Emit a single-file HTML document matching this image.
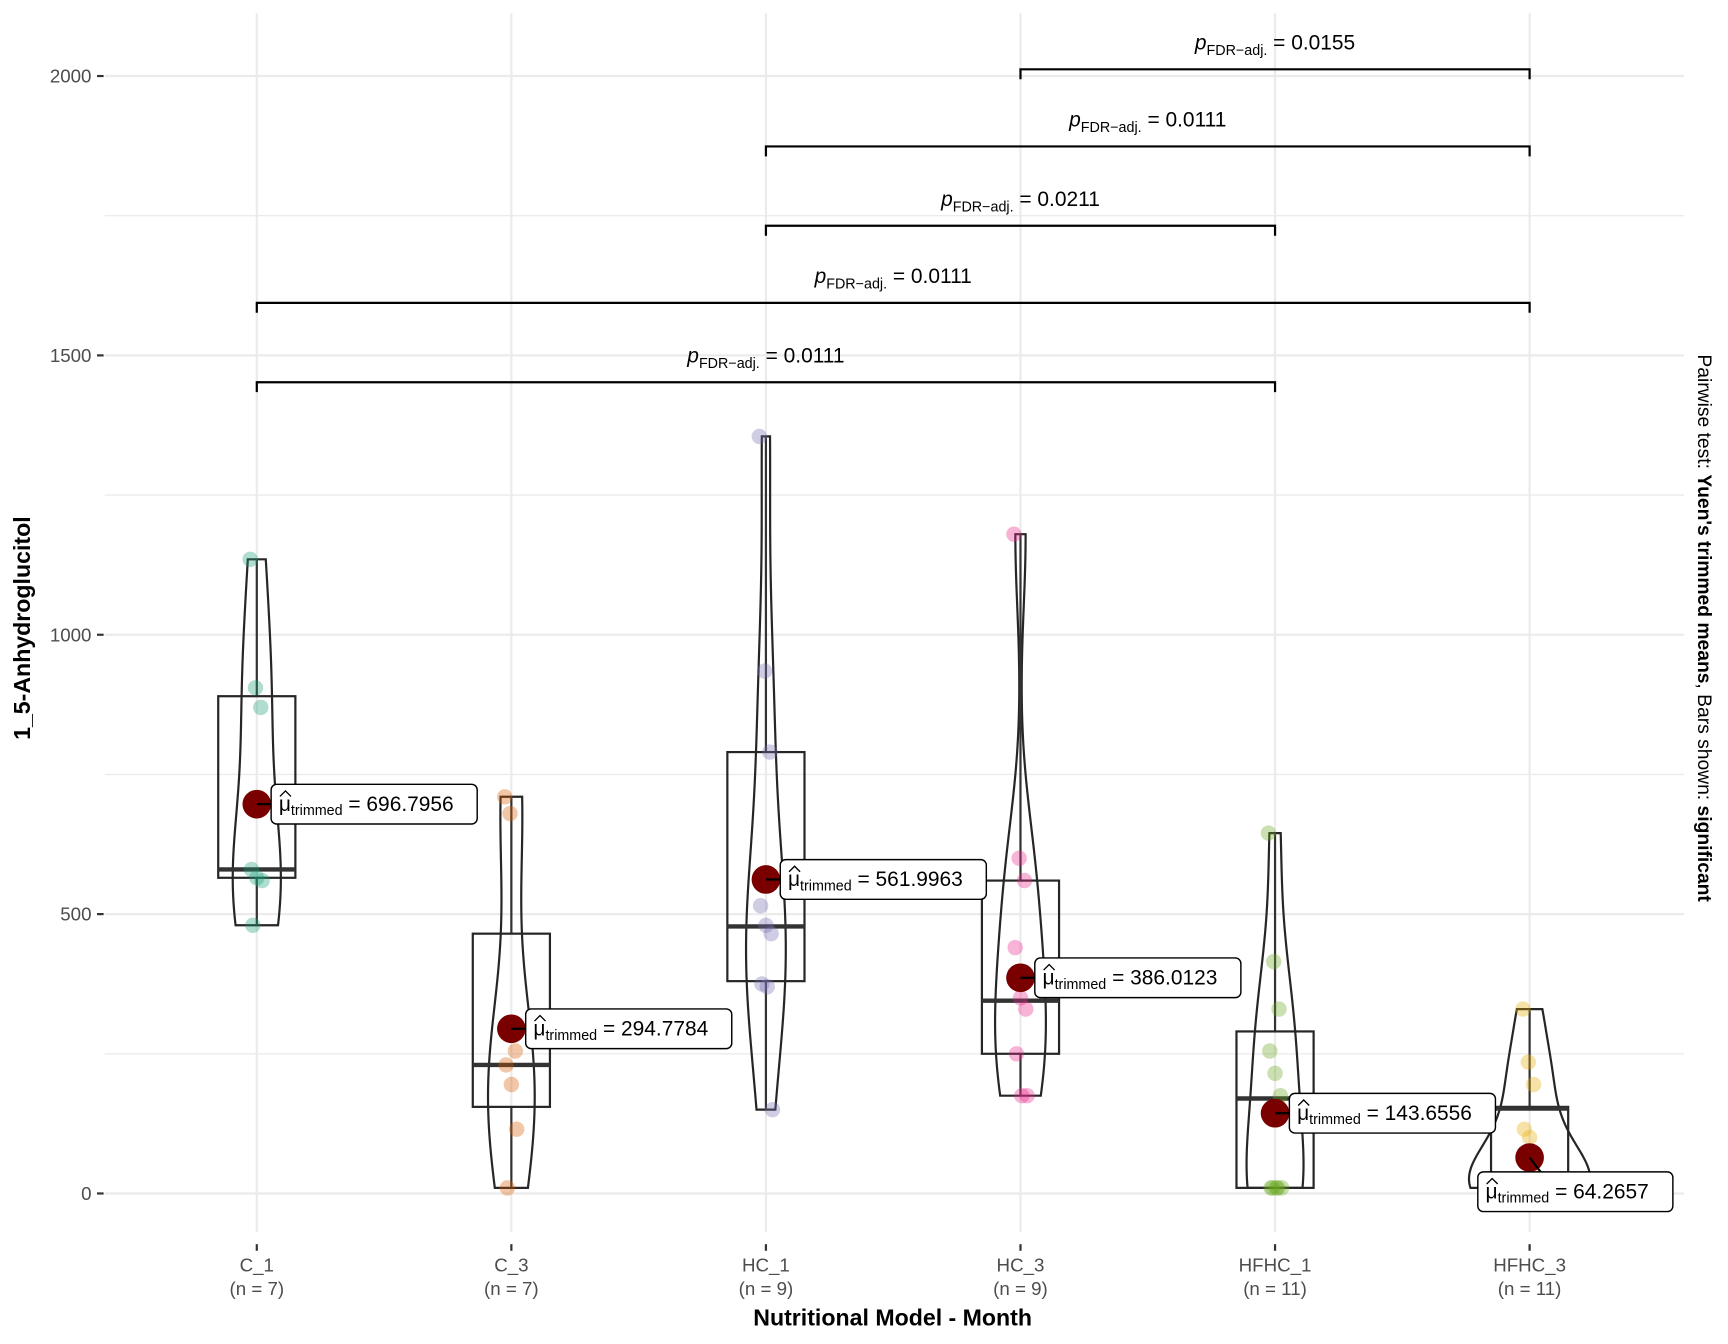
<!DOCTYPE html>
<html><head><meta charset="utf-8"><style>
html,body{margin:0;padding:0;background:#fff}
svg{display:block;font-family:"Liberation Sans",Arial,sans-serif}
</style></head><body>
<svg id="chart" width="1728" height="1344" viewBox="0 0 1568 1219.6">
<g id="grid"></g><g id="marks"></g><g id="ann"></g>
<text x="810" y="1203" text-anchor="middle" font-size="21" font-weight="bold" fill="#000">Nutritional Model - Month</text>
<text transform="translate(27,570) rotate(-90)" text-anchor="middle" font-size="21" font-weight="bold" fill="#000">1_5-Anhydroglucitol</text>
<text transform="translate(1541,570) rotate(90)" text-anchor="middle" font-size="17.5" fill="#000">Pairwise test: <tspan font-weight="bold">Yuen's trimmed means</tspan>, Bars shown: <tspan font-weight="bold">significant</tspan></text>
</svg>
<script>
const categories=["C_1","C_3","HC_1","HC_3","HFHC_1","HFHC_3"];
const counts=[7,7,9,9,11,11];
const colors=["#1b9e77","#d95f02","#7570b3","#e7298a","#66a61e","#e6ab02"];
const points=[[1135,905,870,580,565,560,480],[710,680,255,230,195,115,10],[1355,935,790,515,480,465,375,370,150],[1180,600,560,440,350,330,250,175,175],[645,415,330,255,215,175,10,10,10,10,10],[330,235,195,115,100,30,10,10,10,10,10]];
const q1=[565,155,380,250,10,10];
const medians=[580,230,478,345,170,152];
const q3=[890,465,790,560,290,155];
const means=[696.7956,294.7784,561.9963,386.0123,143.6556,64.2657];
const meanLabels=["696.7956","294.7784","561.9963","386.0123","143.6556","64.2657"];
const yTicks=[0,500,1000,1500,2000];
const brackets=[[3,5,2012,"0.0155"],[2,5,1874,"0.0111"],[2,4,1732,"0.0211"],[0,5,1594,"0.0111"],[0,4,1452,"0.0111"]];
const NS="http://www.w3.org/2000/svg";
const X0=95,X1=1528,Y0=12,Y1=1118;
const xs=i=>233+231*i;
const ys=v=>1083-0.507*v;
function mk(t,a,p){const e=document.createElementNS(NS,t);for(const k in a)e.setAttribute(k,a[k]);(p||document.getElementById('marks')).appendChild(e);return e;}
const grid=document.getElementById('grid');
for(let v=-250;v<=2250;v+=250){const y=ys(v);if(y<Y0||y>Y1)continue;const major=v%500===0;
 const l=mk('line',{x1:X0,x2:X1,y1:y,y2:y,stroke:'#ebebeb','stroke-width':major?2:1.2},grid);
 
 }
yTicks.forEach(v=>{const y=ys(v);
 const t=mk('text',{x:83,y:y+6,'text-anchor':'end','font-size':17,fill:'#4d4d4d'},grid);t.textContent=v;
 
 
 mk('line',{x1:88,x2:94,y1:y,y2:y,stroke:'#333','stroke-width':2},grid);});
categories.forEach((c,i)=>{const x=xs(i);
 const l=mk('line',{x1:x,x2:x,y1:Y0,y2:Y1,stroke:'#ebebeb','stroke-width':2},grid);
 
 
 mk('line',{x1:x,x2:x,y1:1129,y2:1135,stroke:'#333','stroke-width':2},grid);
 const t=mk('text',{x:x,y:1154,'text-anchor':'middle','font-size':17,fill:'#4d4d4d'},grid);t.textContent=c;
 
 
 const n=mk('text',{x:x,y:1175,'text-anchor':'middle','font-size':17,fill:'#4d4d4d'},grid);n.textContent='(n = '+counts[i]+')';
 
 });
// densities (area scaling)
const dens=points.map(pts=>{const n=pts.length,mean=pts.reduce((a,b)=>a+b)/n;
 const sd=Math.sqrt(pts.reduce((a,b)=>a+(b-mean)**2,0)/(n-1));
 const s=pts.slice().sort((a,b)=>a-b);const iqr=s[Math.floor(n*0.75)]-s[Math.floor(n*0.25)];
 const bw=0.9*Math.min(sd,iqr>0?iqr/1.34:sd)*Math.pow(n,-0.2);
 const mn=s[0],mx=s[n-1],N=80,out=[];
 for(let k=0;k<=N;k++){const v=mn+(mx-mn)*k/N;let d=0;pts.forEach(p=>d+=Math.exp(-0.5*((v-p)/bw)**2));out.push([v,d/(n*bw)]);}
 return out;});
const gmax=Math.max(...dens.flat().map(d=>d[1]));
categories.forEach((c,i)=>{const x=xs(i),pts=points[i];
 const mn=Math.min(...pts),mx=Math.max(...pts);
 const hw=d=>55*d/gmax;
 const D=dens[i];
 let path='M'+D.map(([v,d])=>(x-hw(d))+','+ys(v)).join(' L');
 path+=' L'+D.slice().reverse().map(([v,d])=>(x+hw(d))+','+ys(v)).join(' L')+' Z';
 const vi=mk('path',{d:path,fill:'none',stroke:'#262626','stroke-width':2});
 
 
 mk('line',{x1:x,x2:x,y1:ys(mx),y2:ys(q3[i]),stroke:'#333','stroke-width':2});
 mk('line',{x1:x,x2:x,y1:ys(q1[i]),y2:ys(mn),stroke:'#333','stroke-width':2});
 const b=mk('rect',{x:x-35,y:ys(q3[i]),width:70,height:ys(q1[i])-ys(q3[i]),fill:'none',stroke:'#262626','stroke-width':2});
 
 
 mk('line',{x1:x-35,x2:x+35,y1:ys(medians[i]),y2:ys(medians[i]),stroke:'#333','stroke-width':4});
 pts.forEach((p,k)=>{const dx=((k*37)%11-5)*1.2;
  const ci=mk('circle',{cx:x+dx,cy:ys(p),r:7,fill:colors[i],'fill-opacity':0.35});
  
  });
 const m=mk('circle',{cx:x,cy:ys(means[i]),r:13,fill:'#7a0000'});
 
 
 const ann=document.getElementById('ann');
 let lx=x+13,ly=ys(means[i])-18;
 if(i===5){lx=x-47;ly=ys(means[i])+13;}
 const w=i===5?177:187;
 const g=mk('g',{},ann);
 
 
 mk('line',{x1:x,y1:ys(means[i]),x2:i===5?x+10:lx,y2:i===5?ly:ys(means[i]),stroke:'#000','stroke-width':2},g);
 mk('rect',{x:lx,y:ly,width:w,height:36,rx:5,fill:'#fff',stroke:'#000','stroke-width':1.3},g);
 const t=mk('text',{x:lx+7,y:ly+24,'font-size':19,fill:'#000'},g);
 t.innerHTML='<tspan>μ</tspan><tspan font-size="13" dy="4">trimmed</tspan><tspan dy="-4"> = '+meanLabels[i]+'</tspan>';
 mk('path',{d:`M${lx+8},${ly+11} L${lx+13},${ly+6} L${lx+18},${ly+11}`,fill:'none',stroke:'#000','stroke-width':1.2},g);});
brackets.forEach(([a,b,v,p])=>{const x1=xs(a),x2=xs(b),y=ys(v);
 const g=mk('g',{},document.getElementById('ann'));
 
 
 mk('path',{d:`M${x1},${y+9} L${x1},${y} L${x2},${y} L${x2},${y+9}`,fill:'none',stroke:'#000','stroke-width':2},g);
 const t=mk('text',{x:(x1+x2)/2,y:y-18,'text-anchor':'middle','font-size':19,fill:'#000'},g);
 t.innerHTML='<tspan font-style="italic">p</tspan><tspan font-size="13" dy="5">FDR−adj.</tspan><tspan dy="-5"> = '+p+'</tspan>';});
</script>
</body></html>
